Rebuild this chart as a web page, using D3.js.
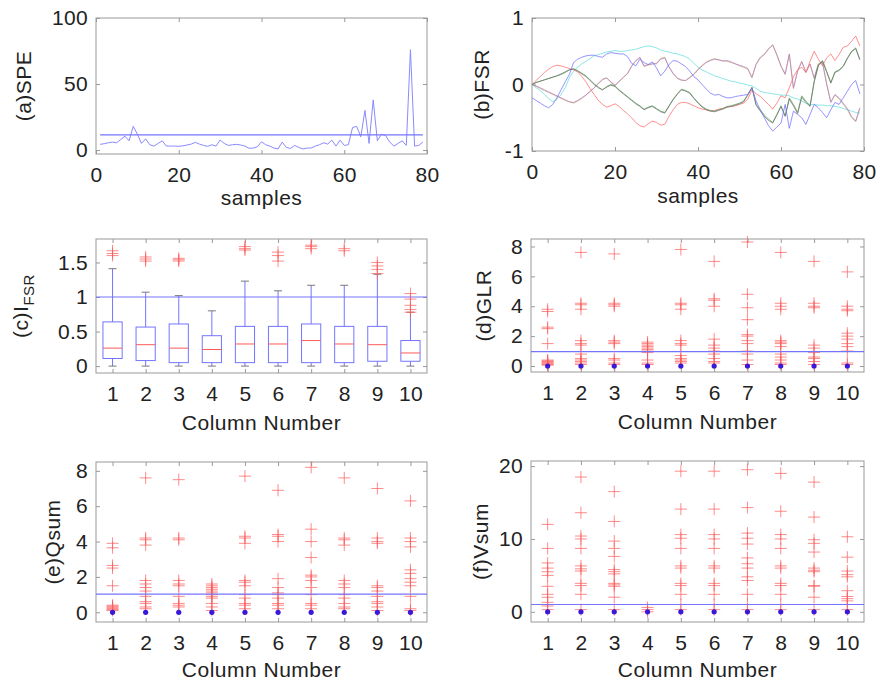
<!DOCTYPE html>
<html lang="en">
<head>
<meta charset="UTF-8">
<title>Monitoring statistics</title>
<script src="https://d3js.org/d3.v7.min.js"></script>
<style>
  body { margin: 0; background: #fff; }
  svg text { font-family: "Liberation Sans", Arial, Helvetica, sans-serif; fill: #222; }
  .axis text { font-size: 21px; letter-spacing: 0.3px; }
  .axis line { stroke: #999; }
  .label { font-size: 21px; letter-spacing: 0.5px; }
</style>
</head>
<body>
<svg id="chart" width="877" height="681"></svg>
<script>
// ---- data ----
const columns = [1, 2, 3, 4, 5, 6, 7, 8, 9, 10];

// (a) SPE, samples 1..79
const speSamples = d3.range(1, 80);
const speValues = [4.3, 4.8, 5.5, 6, 5.5, 8, 10.5, 7, 18, 12, 5, 8.5, 4, 3, 5, 7, 3, 3, 3, 2.8,
  3.2, 3.8, 4.5, 5.8, 4.5, 3.5, 2.8, 4, 3, 7.6, 5, 3.5, 4, 4.3, 3.8, 3, 1.3, 1.5, 2.5, 6.3,
  4, 3, 1.5, 0.8, 6, 2, 1.2, 3.5, 2, 0.8, 1.5, 1.5, 3, 4, 5.5, 4.5, 7.5, 3, 7.5, 3.5,
  4, 17, 18, 10, 30, 5, 38, 7, 12, 11, 6, 3, 5, 7, 3.5, 76, 3, 3.5, 6];
const speLimit = 11.5;

// (b) FSR, samples 0..79, one array per variable
const fsrSamples = d3.range(0, 80);
const fsrBlue = [-0.2, -0.24, -0.28, -0.32, -0.35, -0.3, -0.2, -0.08, 0.04, 0.15, 0.33, 0.38, 0.41, 0.43, 0.44, 0.44, 0.42, 0.41, 0.46, 0.48,
  0.47, 0.46, 0.46, 0.42, 0.32, 0.28, 0.38, 0.33, 0.3, 0.34, 0.25, 0.13, 0.2, 0.3, 0.36, 0.35, 0.31, 0.27, 0.2, 0.12,
  0.07, 0.0, -0.07, -0.13, -0.16, -0.15, -0.18, -0.2, -0.2, -0.18, -0.17, -0.16, -0.15, -0.05, -0.25, -0.38, -0.5, -0.62, -0.7, -0.64,
  -0.58, -0.3, -0.66, -0.4, -0.45, -0.5, -0.6, -0.45, -0.3, -0.35, -0.42, -0.5, -0.38, -0.27, -0.3, -0.2, -0.1, 0.0, 0.06, -0.14];
const fsrGreen = [0, 0.03, 0.05, 0.07, 0.09, 0.11, 0.13, 0.15, 0.18, 0.22, 0.24, 0.21, 0.17, 0.13, 0.07, 0.01, -0.04, -0.08, -0.03, 0.0,
  -0.02, -0.08, -0.13, -0.18, -0.23, -0.28, -0.32, -0.37, -0.34, -0.32, -0.36, -0.4, -0.42, -0.32, -0.22, -0.14, -0.07, -0.09, -0.12, -0.2,
  -0.27, -0.33, -0.37, -0.39, -0.4, -0.38, -0.36, -0.33, -0.32, -0.3, -0.28, -0.25, -0.15, -0.04, -0.3, -0.38, -0.46, -0.52, -0.57, -0.45,
  -0.32, -0.47, -0.2, -0.3, -0.42, -0.17, -0.25, -0.32, 0.05, 0.3, 0.36, 0.2, 0.03, 0.19, 0.22, 0.28, 0.4, 0.5, 0.55, 0.38];
const fsrRed = [0, 0.06, 0.12, 0.18, 0.23, 0.27, 0.29, 0.28, 0.26, 0.24, 0.22, 0.19, 0.12, 0.04, -0.06, -0.15, -0.24, -0.3, -0.34, -0.32,
  -0.29, -0.33, -0.39, -0.44, -0.5, -0.57, -0.62, -0.64, -0.59, -0.55, -0.57, -0.61, -0.6, -0.48, -0.38, -0.3, -0.27, -0.27, -0.29, -0.32,
  -0.35, -0.37, -0.38, -0.4, -0.39, -0.37, -0.36, -0.34, -0.33, -0.32, -0.3, -0.28, -0.22, -0.08, -0.14, -0.18, -0.24, -0.3, -0.37, -0.28,
  -0.17, -0.2, -0.05, 0.12, 0.22, 0.26, 0.18, 0.35, 0.5, 0.38, 0.28, 0.4, 0.46, 0.36, 0.45, 0.56, 0.58, 0.65, 0.73, 0.58];
const fsrCyan = [0, -0.05, -0.09, -0.15, -0.21, -0.26, -0.22, -0.15, -0.05, 0.1, 0.2, 0.26, 0.31, 0.35, 0.39, 0.43, 0.45, 0.47, 0.49, 0.5,
  0.51, 0.5, 0.5, 0.51, 0.52, 0.53, 0.55, 0.57, 0.58, 0.57, 0.55, 0.52, 0.5, 0.49, 0.47, 0.46, 0.44, 0.42, 0.38, 0.32,
  0.26, 0.22, 0.19, 0.16, 0.13, 0.11, 0.09, 0.07, 0.05, 0.04, 0.02, 0.01, -0.01, -0.02, -0.06, -0.1, -0.12, -0.13, -0.14, -0.15,
  -0.16, -0.16, -0.17, -0.2, -0.22, -0.25, -0.28, -0.3, -0.3, -0.31, -0.31, -0.32, -0.32, -0.33, -0.34, -0.36, -0.38, -0.4, -0.42, -0.43];
const fsrMagenta = [0, -0.02, -0.05, -0.08, -0.11, -0.14, -0.17, -0.2, -0.23, -0.26, -0.27, -0.24, -0.2, -0.16, -0.1, -0.05, 0.02, 0.08, 0.1, 0.04,
  -0.01, 0.05, 0.11, 0.16, 0.27, 0.36, 0.41, 0.28, 0.3, 0.31, 0.31, 0.38, 0.4, 0.26, 0.17, 0.1, 0.07, 0.06, 0.1, 0.15,
  0.22, 0.28, 0.33, 0.36, 0.38, 0.37, 0.35, 0.36, 0.34, 0.31, 0.29, 0.27, 0.24, 0.11, 0.3, 0.4, 0.45, 0.53, 0.6, 0.45,
  0.28, 0.16, 0.46, -0.06, 0.2, 0.34, 0.19, 0.31, 0.1, 0.3, 0.33, 0.0, -0.27, -0.15, -0.2, -0.28, -0.36, -0.48, -0.55, -0.35];
const fsrOlive = [0, -0.03, -0.06, -0.09, -0.12, -0.15, -0.18, -0.21, -0.24, -0.26, -0.28, -0.25, -0.21, -0.16, -0.11, -0.05, 0.01, 0.07, 0.1, 0.03,
  -0.02, 0.04, 0.1, 0.17, 0.28, 0.35, 0.4, 0.27, 0.29, 0.31, 0.32, 0.39, 0.41, 0.27, 0.16, 0.09, 0.06, 0.06, 0.11, 0.16,
  0.23, 0.29, 0.34, 0.37, 0.39, 0.37, 0.36, 0.35, 0.33, 0.31, 0.28, 0.26, 0.23, 0.1, 0.31, 0.41, 0.46, 0.54, 0.59, 0.44,
  0.27, 0.15, 0.45, -0.05, 0.21, 0.35, 0.18, 0.3, 0.09, 0.31, 0.34, 0.02, -0.26, -0.16, -0.22, -0.3, -0.38, -0.5, -0.56, -0.36];
const fsrBlack = [0, 0.03, 0.05, 0.07, 0.09, 0.11, 0.13, 0.16, 0.19, 0.22, 0.23, 0.2, 0.16, 0.12, 0.06, 0.0, -0.05, -0.08, -0.04, -0.01,
  -0.03, -0.09, -0.14, -0.19, -0.24, -0.29, -0.33, -0.38, -0.35, -0.33, -0.37, -0.41, -0.43, -0.33, -0.23, -0.15, -0.08, -0.1, -0.13, -0.21,
  -0.28, -0.34, -0.38, -0.4, -0.41, -0.39, -0.37, -0.34, -0.33, -0.31, -0.29, -0.26, -0.16, -0.05, -0.31, -0.4, -0.48, -0.54, -0.58, -0.46,
  -0.33, -0.48, -0.22, -0.32, -0.44, -0.19, -0.27, -0.33, 0.04, 0.28, 0.35, 0.19, 0.02, 0.18, 0.21, 0.27, 0.39, 0.49, 0.54, 0.37];

// (c) I_FSR box plot summary per column
const ifsrQ1 = [0.11, 0.08, 0.05, 0.05, 0.05, 0.05, 0.05, 0.05, 0.07, 0.07];
const ifsrMedian = [0.26, 0.31, 0.26, 0.24, 0.32, 0.32, 0.37, 0.32, 0.31, 0.19];
const ifsrQ3 = [0.64, 0.565, 0.61, 0.44, 0.575, 0.575, 0.61, 0.575, 0.575, 0.37];
const ifsrWhiskerLo = [0, 0, 0, 0, 0, 0, 0, 0, 0, 0];
const ifsrWhiskerHi = [1.41, 1.07, 1.02, 0.8, 1.23, 1.09, 1.17, 1.17, 1.33, 0.78];
const ifsrOutliers = [[1.67, 1.63, 1.6], [1.58, 1.55, 1.52], [1.56, 1.54, 1.52], [], [1.73, 1.7, 1.68],
  [1.65, 1.6, 1.52], [1.75, 1.73, 1.7], [1.7, 1.67], [1.5, 1.45, 1.4, 1.34], [1.05, 0.97, 0.88, 0.82, 0.78]];
const ifsrLimit = 1;

// (d) GLR, (e) Qsum, (f) Vsum: box collapsed at zero, outliers per column
const glrOutliers = [
  [3.8, 3.65, 2.6, 2.5, 1.5, 0.4, 0.35, 0.3, 0.25, 0.2, 0.15, 0.1, 0.05],
  [7.6, 4.2, 4.1, 3.8, 1.7, 1.5, 1.4, 0.8, 0.5, 0.4, 0.3, 0.2, 0.1],
  [7.5, 4.2, 4.1, 4.0, 1.7, 1.6, 1.5, 0.5, 0.4, 0.2, 0.1],
  [1.6, 1.5, 1.4, 1.3, 1.2, 1.1, 1.0, 0.9, 0.4, 0.2, 0.1],
  [7.8, 4.2, 4.1, 3.8, 1.7, 1.5, 1.4, 0.7, 0.5, 0.4, 0.3, 0.2],
  [7.0, 4.5, 4.4, 4.0, 1.8, 1.4, 1.2, 1.0, 0.8, 0.5, 0.3, 0.2],
  [8.3, 4.8, 3.9, 3.1, 2.1, 2.0, 1.7, 1.5, 1.0, 0.8, 0.4, 0.1],
  [7.6, 4.2, 4.0, 3.8, 1.7, 1.6, 1.5, 1.3, 0.8, 0.6, 0.4, 0.2, 0.1],
  [7.0, 4.2, 4.0, 3.9, 1.4, 1.2, 0.9, 0.6, 0.5, 0.3, 0.1],
  [6.3, 4.0, 3.8, 3.7, 2.2, 2.0, 1.8, 1.5, 1.3, 1.0, 0.2, 0.1]
];
const glrLimit = 0.97;

const qsumOutliers = [
  [3.9, 3.65, 2.65, 2.5, 1.5, 0.4, 0.35, 0.3, 0.25, 0.2, 0.15, 0.1],
  [7.6, 4.2, 4.1, 3.8, 1.8, 1.6, 1.4, 1.2, 0.9, 0.6, 0.5, 0.3, 0.2],
  [7.5, 4.2, 4.1, 1.8, 1.6, 1.5, 0.9, 0.5, 0.4, 0.3],
  [1.6, 1.5, 1.4, 1.3, 1.2, 1.1, 1.0, 0.9, 0.8, 0.5, 0.3, 0.1],
  [7.7, 4.3, 4.2, 3.9, 1.8, 1.7, 1.5, 1.0, 0.8, 0.5, 0.4, 0.2],
  [6.9, 4.4, 4.3, 4.0, 1.9, 1.4, 1.1, 1.0, 0.8, 0.5, 0.4, 0.2],
  [8.2, 4.7, 4.0, 3.1, 2.1, 2.0, 1.8, 1.4, 1.0, 0.5, 0.4, 0.2],
  [7.6, 4.2, 4.1, 3.8, 1.8, 1.6, 1.4, 1.0, 0.8, 0.5, 0.3, 0.2],
  [7.0, 4.2, 4.0, 3.9, 1.5, 1.4, 1.2, 0.9, 0.6, 0.5, 0.3, 0.1],
  [6.3, 4.2, 4.0, 3.7, 2.4, 2.2, 1.9, 1.7, 1.5, 0.9, 0.2, 0.1]
];
const qsumLimit = 1.03;

const vsumOutliers = [
  [12.0, 8.7, 6.7, 6.0, 5.5, 5.0, 3.5, 2.4, 2.0, 1.3, 0.8, 0.3],
  [18.5, 13.6, 10.4, 10.0, 8.7, 6.3, 5.9, 5.6, 3.9, 3.6, 2.4, 0.3],
  [16.5, 12.4, 9.7, 8.7, 7.6, 5.8, 5.5, 5.2, 3.9, 3.7, 3.5, 2.0, 0.3],
  [0.6, 0.3, 0],
  [19.3, 14.1, 10.6, 10.1, 8.7, 6.3, 6.0, 3.9, 3.6, 2.4, 1.0, 0.3],
  [19.3, 14.1, 10.6, 10.0, 8.7, 6.3, 6.0, 3.9, 3.6, 2.4, 1.0, 0.3],
  [19.5, 14.3, 10.8, 10.1, 9.3, 7.4, 6.6, 6.0, 4.8, 4.3, 2.4, 1.0, 0.3],
  [19.0, 13.8, 10.6, 10.0, 8.7, 6.3, 6.0, 3.9, 3.6, 2.4, 1.0, 0.3],
  [17.8, 13.0, 9.9, 9.4, 8.2, 6.0, 5.7, 5.5, 3.6, 3.5, 2.0, 0.3],
  [10.3, 7.5, 5.6, 5.1, 4.8, 2.9, 2.1, 1.8, 1.5, 1.0, 0.3]
];
const vsumLimit = 1.0;

// ---- drawing ----
const svg = d3.select("#chart");
const blue = "#7474ff", red = "#ff5a5a";

function makePanel(p) {
  const x = d3.scaleLinear().domain(p.xdom).range([p.left, p.right]);
  const y = d3.scaleLinear().domain(p.ydom).range([p.bottom, p.top]);
  const g = svg.append("g");

  g.append("rect")
    .attr("x", p.left).attr("y", p.top)
    .attr("width", p.right - p.left).attr("height", p.bottom - p.top)
    .attr("fill", "none").attr("stroke", "#999");

  const plain = a => a.select(".domain").remove();
  g.append("g").attr("class", "axis").attr("transform", `translate(0,${p.bottom})`)
    .call(d3.axisBottom(x).tickValues(p.xticks).tickSizeInner(-4).tickSizeOuter(0).tickPadding(13).tickFormat(d3.format("d")))
    .call(plain);
  g.append("g").attr("class", "axis").attr("transform", `translate(0,${p.top})`)
    .call(d3.axisTop(x).tickValues(p.xticks).tickSizeInner(-4).tickSizeOuter(0).tickFormat(""))
    .call(plain);
  g.append("g").attr("class", "axis").attr("transform", `translate(${p.left},0)`)
    .call(d3.axisLeft(y).tickValues(p.yticks).tickSizeInner(-4).tickSizeOuter(0).tickPadding(8).tickFormat(d => String(d)))
    .call(plain);
  g.append("g").attr("class", "axis").attr("transform", `translate(${p.right},0)`)
    .call(d3.axisRight(y).tickValues(p.yticks).tickSizeInner(-4).tickSizeOuter(0).tickFormat(""))
    .call(plain);

  // x label
  g.append("text").attr("class", "label")
    .attr("x", (p.left + p.right) / 2).attr("y", p.bottom + p.xlabelGap)
    .attr("text-anchor", "middle").text(p.xlabel);

  // y label (rotated)
  const yl = g.append("text").attr("class", "label")
    .attr("transform", `translate(${p.ylabelX},${(p.top + p.bottom) / 2}) rotate(-90)`)
    .attr("text-anchor", "middle");
  yl.append("tspan").text(p.ylabel);
  if (p.ysub) yl.append("tspan").attr("dy", 6).attr("font-size", 15).text(p.ysub);

  return { g, x, y };
}

function hline(panel, value, dom) {
  panel.g.append("line")
    .attr("x1", panel.x(dom[0])).attr("x2", panel.x(dom[1]))
    .attr("y1", panel.y(value)).attr("y2", panel.y(value))
    .attr("stroke", blue).attr("stroke-width", 1.2);
}

function pluses(panel, col, values) {
  panel.g.append("g").selectAll("path").data(values).join("path")
    .attr("transform", d => `translate(${panel.x(col)},${panel.y(d)})`)
    .attr("d", "M-6,0H6M0,-6V6")
    .attr("stroke", red).attr("stroke-opacity", 0.7).attr("stroke-width", 1).attr("fill", "none");
}

// (a) SPE
const pa = makePanel({ left: 96, right: 427, top: 18, bottom: 154, xdom: [0, 80], ydom: [-3, 100],
  xticks: [0, 20, 40, 60, 80], yticks: [0, 50, 100], xlabel: "samples", xlabelGap: 51, ylabel: "(a)SPE", ylabelX: 31 });
pa.g.append("path").datum(speValues)
  .attr("d", d3.line().x((d, i) => pa.x(speSamples[i])).y(d => pa.y(d)))
  .attr("fill", "none").attr("stroke", "#8a8aff").attr("stroke-width", 1);
hline(pa, speLimit, [1, 79]);

// (b) FSR
const pb = makePanel({ left: 532, right: 864, top: 18, bottom: 151, xdom: [0, 80], ydom: [-1, 1],
  xticks: [0, 20, 40, 60, 80], yticks: [-1, 0, 1], xlabel: "samples", xlabelGap: 52, ylabel: "(b)FSR", ylabelX: 489 });
const fsrSeries = [
  { values: fsrCyan, color: "#66dddd" },
  { values: fsrOlive, color: "#b8b870" },
  { values: fsrMagenta, color: "#c078c8" },
  { values: fsrRed, color: "#ff6a6a" },
  { values: fsrGreen, color: "#5aa85a" },
  { values: fsrBlack, color: "#707070" },
  { values: fsrBlue, color: "#7070ff" }
];
const fsrLine = d3.line().x((d, i) => pb.x(fsrSamples[i])).y(d => pb.y(d));
pb.g.append("g").selectAll("path").data(fsrSeries).join("path")
  .attr("d", s => fsrLine(s.values))
  .attr("fill", "none").attr("stroke", s => s.color).attr("stroke-width", 1).attr("stroke-opacity", 0.75);

// (c) I_FSR box plot
const pc = makePanel({ left: 96, right: 427, top: 239, bottom: 373, xdom: [0.5, 10.5], ydom: [-0.1, 1.84],
  xticks: columns, yticks: [0, 0.5, 1, 1.5], xlabel: "Column Number", xlabelGap: 57, ylabel: "(c)I", ysub: "FSR", ylabelX: 28 });
hline(pc, ifsrLimit, [0.5, 10.5]);
const halfBox = 0.29, halfCap = 0.12;
columns.forEach((col, i) => {
  const g = pc.g.append("g");
  const cx = pc.x(col);
  // whiskers
  g.append("line").attr("x1", cx).attr("x2", cx).attr("y1", pc.y(ifsrQ3[i])).attr("y2", pc.y(ifsrWhiskerHi[i]))
    .attr("stroke", blue);
  g.append("line").attr("x1", cx).attr("x2", cx).attr("y1", pc.y(ifsrQ1[i])).attr("y2", pc.y(ifsrWhiskerLo[i]))
    .attr("stroke", blue);
  [ifsrWhiskerHi[i], ifsrWhiskerLo[i]].forEach(v => {
    g.append("line").attr("x1", pc.x(col - halfCap)).attr("x2", pc.x(col + halfCap))
      .attr("y1", pc.y(v)).attr("y2", pc.y(v)).attr("stroke", "#777");
  });
  // box
  g.append("rect").attr("x", pc.x(col - halfBox)).attr("width", pc.x(col + halfBox) - pc.x(col - halfBox))
    .attr("y", pc.y(ifsrQ3[i])).attr("height", pc.y(ifsrQ1[i]) - pc.y(ifsrQ3[i]))
    .attr("fill", "none").attr("stroke", blue);
  g.append("line").attr("x1", pc.x(col - halfBox)).attr("x2", pc.x(col + halfBox))
    .attr("y1", pc.y(ifsrMedian[i])).attr("y2", pc.y(ifsrMedian[i])).attr("stroke", red);
  pluses(pc, col, ifsrOutliers[i]);
});

// (d), (e), (f): collapsed boxes with outliers
function outlierPanel(cfg, outliers, limit) {
  const p = makePanel(cfg);
  columns.forEach((col, i) => pluses(p, col, outliers[i]));
  p.g.append("g").selectAll("circle").data(columns).join("circle")
    .attr("cx", d => p.x(d)).attr("cy", p.y(0)).attr("r", 2.6).attr("fill", "#3a18d8");
  hline(p, limit, [0.5, 10.5]);
  return p;
}

outlierPanel({ left: 531, right: 864, top: 239, bottom: 372, xdom: [0.5, 10.5], ydom: [-0.4, 8.5],
  xticks: columns, yticks: [0, 2, 4, 6, 8], xlabel: "Column Number", xlabelGap: 57, ylabel: "(d)GLR", ylabelX: 491 },
  glrOutliers, glrLimit);

outlierPanel({ left: 96, right: 427, top: 462, bottom: 622, xdom: [0.5, 10.5], ydom: [-0.55, 8.5],
  xticks: columns, yticks: [0, 2, 4, 6, 8], xlabel: "Column Number", xlabelGap: 55, ylabel: "(e)Qsum", ylabelX: 60 },
  qsumOutliers, qsumLimit);

outlierPanel({ left: 531, right: 864, top: 461, bottom: 622, xdom: [0.5, 10.5], ydom: [-1.4, 20.7],
  xticks: columns, yticks: [0, 10, 20], xlabel: "Column Number", xlabelGap: 55, ylabel: "(f)Vsum", ylabelX: 488 },
  vsumOutliers, vsumLimit);
</script>
</body>
</html>
